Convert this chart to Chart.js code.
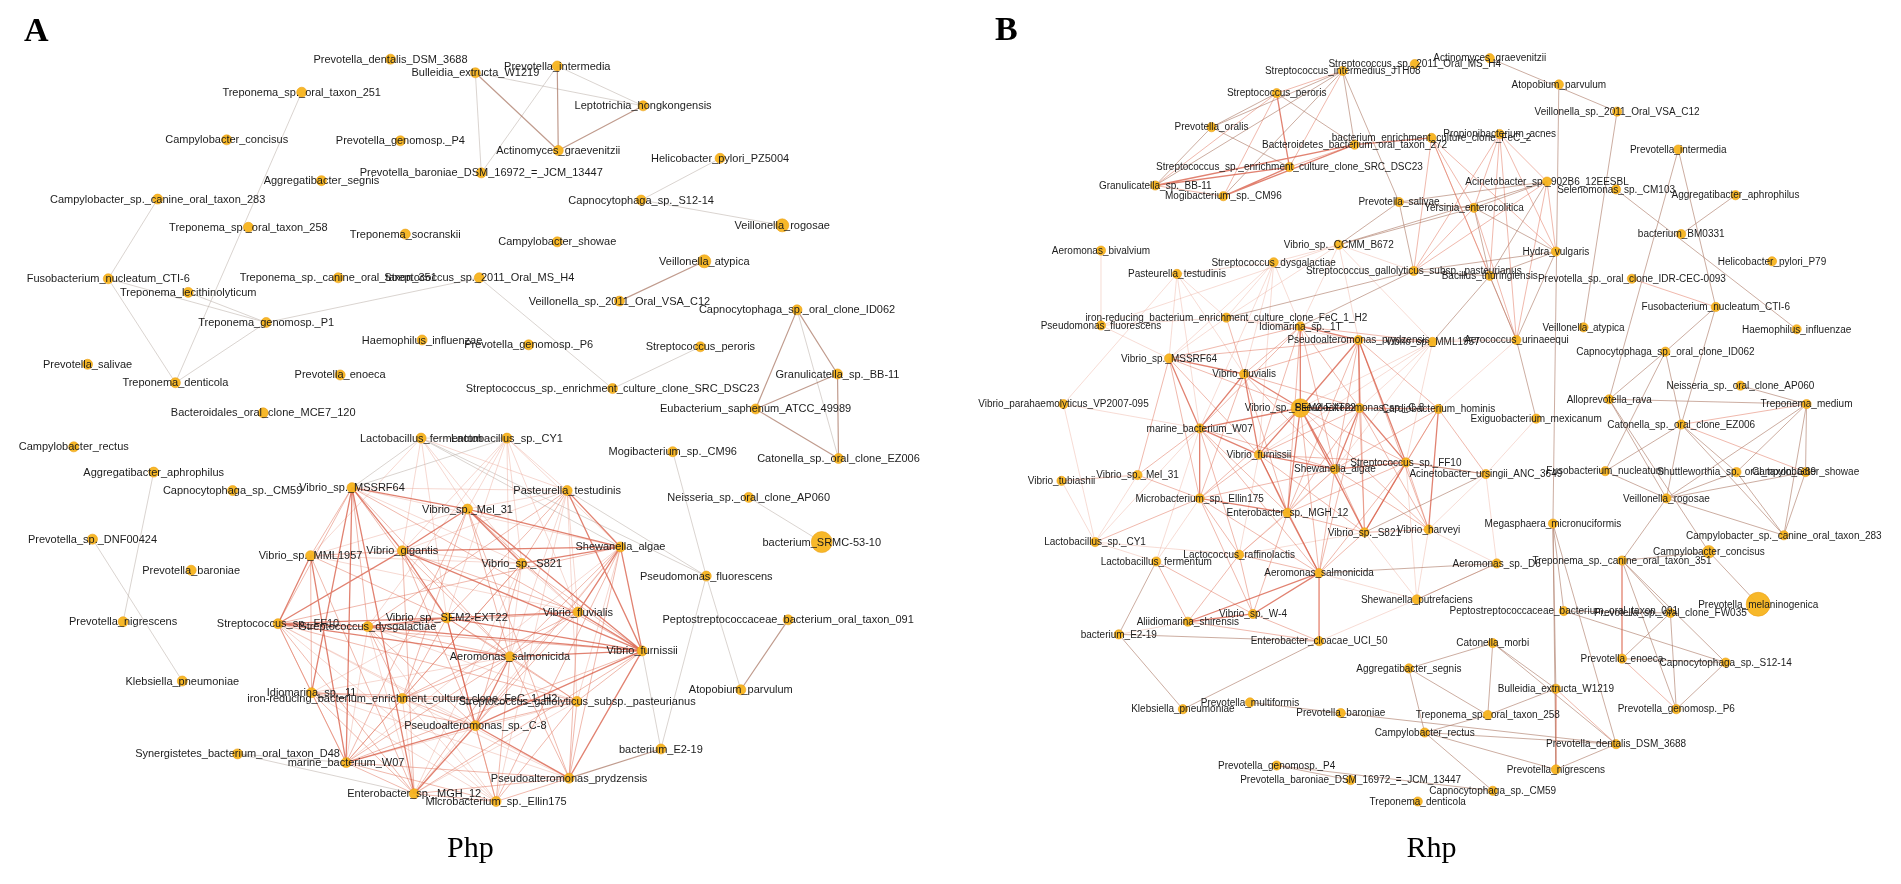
<!DOCTYPE html>
<html>
<head>
<meta charset="utf-8">
<script src="https://cdn.jsdelivr.net/npm/chart.js@4.4.1/dist/chart.umd.min.js"></script>
<style>
html,body{margin:0;padding:0;background:#ffffff;}
#wrap{width:1901px;height:884px;position:relative;}
</style>
</head>
<body>
<div id="wrap"><canvas id="c"></canvas></div>
<script>
// ---------- Panel A (Php) nodes: [id, taxon, layoutX, layoutY, abundance] ----------
const aNodes = [
["T251","Treponema_sp._oral_taxon_251",293,82,1],
["PDEN","Prevotella_dentalis_DSM_3688",383,48,1],
["BUL","Bulleidia_extructa_W1219",469,62,1],
["PINT","Prevotella_intermedia",552,55,1],
["LEP","Leptotrichia_hongkongensis",639,96,1],
["CCON","Campylobacter_concisus",217,131,1],
["P4","Prevotella_genomosp._P4",393,132,1],
["ACT","Actinomyces_graevenitzii",553,142,1],
["HEL","Helicobacter_pylori_PZ5004",717,150,1],
["PBD","Prevotella_baroniae_DSM_16972_=_JCM_13447",475,165,1],
["ASEG","Aggregatibacter_segnis",313,173,1],
["C283","Campylobacter_sp._canine_oral_taxon_283",147,192,1],
["CS12","Capnocytophaga_sp._S12-14",637,193,1],
["VRO","Veillonella_rogosae",780,219,1.3],
["T258","Treponema_sp._oral_taxon_258",239,221,1],
["TSOC","Treponema_socranskii",398,228,1],
["CSHO","Campylobacter_showae",552,236,1],
["VATY","Veillonella_atypica",701,256,1.3],
["T351","Treponema_sp._canine_oral_taxon_351",330,273,1],
["S2011","Streptococcus_sp._2011_Oral_MS_H4",473,273,1],
["FUSO","Fusobacterium_nucleatum_CTI-6",97,274,1],
["TLEC","Treponema_lecithinolyticum",178,288,1],
["VSA","Veillonella_sp._2011_Oral_VSA_C12",615,297,1],
["CID","Capnocytophaga_sp._oral_clone_ID062",795,306,1],
["P1","Treponema_genomosp._P1",257,319,1],
["HAE","Haemophilus_influenzae",415,337,1],
["P6","Prevotella_genomosp._P6",523,342,1],
["PER","Streptococcus_peroris",697,344,1],
["PSAL","Prevotella_salivae",76,362,1],
["GRA","Granulicatella_sp._BB-11",836,372,1],
["PENO","Prevotella_enoeca",332,373,1],
["TDEN","Treponema_denticola",165,381,1],
["SRC","Streptococcus_sp._enrichment_culture_clone_SRC_DSC23",608,387,1],
["EUB","Eubacterium_saphenum_ATCC_49989",753,408,1],
["BACT","Bacteroidales_oral_clone_MCE7_120",254,412,1],
["LF","Lactobacillus_fermentum",414,438,1],
["LCY","Lactobacillus_sp._CY1",501,438,1],
["CREC","Campylobacter_rectus",62,447,1],
["MOG","Mogibacterium_sp._CM96",669,452,1],
["CAT","Catonella_sp._oral_clone_EZ006",837,459,1],
["AAPH","Aggregatibacter_aphrophilus",143,473,1],
["MSS","Vibrio_sp._MSSRF64",344,489,1],
["CM59","Capnocytophaga_sp._CM59",223,492,1],
["PAS","Pasteurella_testudinis",562,492,1],
["NEI","Neisseria_sp._oral_clone_AP060",746,499,1],
["MEL","Vibrio_sp._Mel_31",461,511,1],
["DNF","Prevotella_sp._DNF00424",81,542,1],
["SRMC","bacterium_SRMC-53-10",820,545,2.1],
["SHE","Shewanella_algae",616,550,1],
["GIG","Vibrio_gigantis",395,554,1],
["MML","Vibrio_sp._MML1957",302,559,1],
["S821","Vibrio_sp._S821",516,567,1],
["PBAR","Prevotella_baroniae",181,574,1],
["PFL","Pseudomonas_fluorescens",703,580,1],
["FLU","Vibrio_fluvialis",573,617,1],
["SEM","Vibrio_sp._SEM2-EXT22",440,623,1],
["PEP","Peptostreptococcaceae_bacterium_oral_taxon_091",786,625,1],
["PNI","Prevotella_nigrescens",112,627,1],
["FF10","Streptococcus_sp._FF10",269,629,1],
["DYS","Streptococcus_dysgalactiae",360,632,1],
["FUR","Vibrio_furnissii",638,657,1],
["AER","Aeromonas_salmonicida",504,663,1],
["KLE","Klebsiella_pneumoniae",172,688,1],
["ATO","Atopobium_parvulum",738,697,1],
["IDI","Idiomarina_sp._11",303,700,1],
["IRON","iron-reducing_bacterium_enrichment_culture_clone_FeC_1_H2",395,706,1],
["GAL","Streptococcus_gallolyticus_subsp._pasteurianus",572,709,1],
["C8","Pseudoalteromonas_sp._C-8",469,734,1],
["E219","bacterium_E2-19",657,758,1],
["SYN","Synergistetes_bacterium_oral_taxon_D48",228,763,1],
["W07","marine_bacterium_W07",338,772,1],
["PRY","Pseudoalteromonas_prydzensis",564,788,1],
["ENT","Enterobacter_sp._MGH_12",407,804,1],
["MIC","Microbacterium_sp._Ellin175",490,812,1]
];

// ---------- Panel B (Rhp) nodes ----------
const bNodes = [
["SIN","Streptococcus_intermedius_JTH08",1348,60,1],
["S2011","Streptococcus_sp._2011_Oral_MS_H4",1421,53,1],
["ACT","Actinomyces_graevenitzii",1497,47,1],
["ATO","Atopobium_parvulum",1567,74,1],
["PER","Streptococcus_peroris",1281,83,1],
["VSA","Veillonella_sp._2011_Oral_VSA_C12",1626,102,1],
["POR","Prevotella_oralis",1215,118,1],
["PRO","Propionibacterium_acnes",1507,125,1],
["BENR","bacterium_enrichment_culture_clone_FeC_2",1438,129,1],
["BAC272","Bacteroidetes_bacterium_oral_taxon_272",1360,136,1],
["PINT","Prevotella_intermedia",1688,141,1],
["SRC","Streptococcus_sp._enrichment_culture_clone_SRC_DSC23",1294,159,1],
["A902","Acinetobacter_sp._902B6_12EESBL",1555,174,1],
["GRA","Granulicatella_sp._BB-11",1158,178,1],
["SEL","Selenomonas_sp._CM103",1625,182,1],
["AAPH","Aggregatibacter_aphrophilus",1746,188,1],
["MOG","Mogibacterium_sp._CM96",1227,189,1],
["PSAL","Prevotella_salivae",1405,195,1],
["YER","Yersinia_enterocolitica",1481,201,1],
["BM","bacterium_BM0331",1691,228,1],
["VCC","Vibrio_sp._CCMM_B672",1344,239,1],
["ABIV","Aeromonas_bivalvium",1103,245,1],
["HYD","Hydra_vulgaris",1564,246,1],
["HEL","Helicobacter_pylori_P79",1783,256,1],
["DYS","Streptococcus_dysgalactiae",1278,257,1],
["GAL","Streptococcus_gallolyticus_subsp._pasteurianus",1420,266,1],
["PAS","Pasteurella_testudinis",1180,269,1],
["BTH","Bacillus_thuringiensis",1497,271,1],
["IDR","Prevotella_sp._oral_clone_IDR-CEC-0093",1641,274,1],
["FCTI","Fusobacterium_nucleatum_CTI-6",1726,303,1],
["IRON","iron-reducing_bacterium_enrichment_culture_clone_FeC_1_H2",1230,314,1],
["PFL","Pseudomonas_fluorescens",1103,322,1],
["IDI","Idiomarina_sp._1T",1305,323,1],
["VATY","Veillonella_atypica",1592,324,1],
["HAE","Haemophilus_influenzae",1808,326,1],
["PRY","Pseudoalteromonas_prydzensis",1364,337,1],
["AERO","Aerococcus_urinaeequi",1524,337,1],
["MML","Vibrio_sp._MML1957",1439,339,1],
["CID","Capnocytophaga_sp._oral_clone_ID062",1675,349,1],
["MSS","Vibrio_sp._MSSRF64",1172,356,1],
["FLU","Vibrio_fluvialis",1248,372,1],
["NEI","Neisseria_sp._oral_clone_AP060",1751,384,1],
["ALLO","Alloprevotella_rava",1618,398,1],
["TMED","Treponema_medium",1818,403,1],
["VPH","Vibrio_parahaemolyticus_VP2007-095",1065,403,1],
["SEM","Vibrio_sp._SEM2-EXT22",1305,407,2],
["C8","Pseudoalteromonas_sp._C-8",1365,407,1],
["COR","Cardiobacterium_hominis",1445,408,1],
["EXI","Exiguobacterium_mexicanum",1544,418,1],
["CAT","Catonella_sp._oral_clone_EZ006",1691,424,1],
["W07","marine_bacterium_W07",1203,428,1],
["FUR","Vibrio_furnissii",1263,455,1],
["FF10","Streptococcus_sp._FF10",1412,463,1],
["SHE","Shewanella_algae",1340,470,1],
["FNU","Fusobacterium_nucleatum",1614,472,1],
["SHU","Shuttleworthia_sp._oral_taxon_G69",1747,473,1],
["CSH","Campylobacter_showae",1817,473,1],
["MEL","Vibrio_sp._Mel_31",1140,476,1],
["ACU","Acinetobacter_ursingii_ANC_3649",1493,475,1],
["TUB","Vibrio_tubiashii",1063,482,1],
["VRO","Veillonella_rogosae",1676,500,1],
["MIC","Microbacterium_sp._Ellin175",1203,500,1],
["ENT","Enterobacter_sp._MGH_12",1292,515,1],
["MEG","Megasphaera_micronuciformis",1561,526,1],
["HAR","Vibrio_harveyi",1435,532,1],
["S821","Vibrio_sp._S821",1370,535,1],
["C283","Campylobacter_sp._canine_oral_taxon_283",1795,538,1],
["LCY","Lactobacillus_sp._CY1",1097,545,1],
["CCON","Campylobacter_concisus",1719,555,1.35],
["LRA","Lactococcus_raffinolactis",1243,558,1],
["T351","Treponema_sp._canine_oral_taxon_351",1631,564,1],
["LFE","Lactobacillus_fermentum",1159,565,1],
["AD6","Aeromonas_sp._D6",1504,567,1],
["ASA","Aeromonas_salmonicida",1324,577,1],
["SPU","Shewanella_putrefaciens",1423,604,1],
["PMEL","Prevotella_melaninogenica",1769,609,2.6],
["PEP","Peptostreptococcaceae_bacterium_oral_taxon_091",1572,616,1],
["FW","Prevotella_sp._oral_clone_FW035",1680,618,1],
["W4","Vibrio_sp._W-4",1257,619,1],
["ALI","Aliidiomarina_shirensis",1191,627,1],
["E219","bacterium_E2-19",1121,640,1],
["ECL","Enterobacter_cloacae_UCI_50",1324,647,1],
["CMO","Catonella_morbi",1500,649,1],
["PEN","Prevotella_enoeca",1631,665,1],
["CS12","Capnocytophaga_sp._S12-14",1736,669,1],
["ASE","Aggregatibacter_segnis",1415,675,1],
["BUL","Bulleidia_extructa_W1219",1564,696,1],
["PMU","Prevotella_multiformis",1254,710,1],
["KLE","Klebsiella_pneumoniae",1186,717,1],
["P6","Prevotella_genomosp._P6",1686,717,1],
["PBA","Prevotella_baroniae",1346,721,1],
["T258","Treponema_sp._oral_taxon_258",1495,723,1],
["CRE","Campylobacter_rectus",1431,741,1],
["PDE","Prevotella_dentalis_DSM_3688",1625,753,1],
["P4","Prevotella_genomosp._P4",1281,775,1],
["PNI","Prevotella_nigrescens",1564,779,1],
["PBD","Prevotella_baroniae_DSM_16972_=_JCM_13447",1356,790,1],
["CM59","Capnocytophaga_sp._CM59",1500,801,1],
["TDE","Treponema_denticola",1424,812,1]
];

// ---------- Edges (co-occurrence links), grouped by correlation strength ----------
const aEdgesStrong = "FF10-DYS FF10-SEM DYS-SEM SEM-FLU SEM-FUR FLU-FUR MSS-GIG MSS-MEL GIG-MEL MEL-SHE GIG-SHE SHE-FUR FUR-C8 C8-W07 C8-ENT W07-MML MSS-ENT MSS-IDI MML-FF10 FF10-AER AER-FUR DYS-FUR GIG-SEM MEL-S821 S821-SHE SHE-FLU AER-C8 SEM-C8 FUR-PRY C8-PRY MSS-W07 GIG-FF10 GIG-FUR MEL-FUR PAS-FUR PAS-SHE".split(" ");
const aEdgesMedium = "MSS-MML MSS-FF10 MSS-DYS MSS-SEM MSS-AER MSS-FUR MML-GIG MML-IDI MML-ENT MML-SEM GIG-FLU GIG-AER GIG-C8 GIG-ENT MEL-FLU MEL-AER MEL-W07 MEL-IRON MEL-PRY PAS-S821 PAS-SEM PAS-DYS S821-FUR S821-IRON S821-W07 S821-C8 SHE-AER SHE-FF10 SHE-MIC SHE-PRY SHE-C8 FF10-FUR FF10-IDI FF10-W07 FF10-ENT FF10-GAL DYS-FLU DYS-AER DYS-C8 DYS-IRON SEM-AER SEM-IRON SEM-GAL SEM-MIC FLU-AER FLU-IRON FLU-C8 FLU-PRY FUR-GAL FUR-ENT FUR-W07 AER-IRON AER-GAL AER-W07 AER-ENT AER-MIC AER-PRY IDI-IRON IDI-C8 IDI-W07 IDI-ENT IDI-GAL IRON-GAL IRON-C8 IRON-W07 GAL-C8 GAL-PRY GAL-MIC C8-MIC W07-ENT W07-MIC W07-PRY ENT-MIC ENT-PRY MIC-PRY".split(" ");
const aEdgesLight = "MSS-PAS MSS-S821 MSS-SHE MML-MEL MML-S821 MML-FLU GIG-PAS GIG-S821 MEL-PAS PAS-FLU PAS-AER PAS-GAL PAS-MIC S821-FLU S821-AER S821-ENT SHE-GAL SHE-W07 SHE-ENT FF10-C8 FF10-MIC FF10-PRY DYS-GAL DYS-W07 DYS-ENT DYS-MIC IDI-SEM IDI-AER IDI-MIC IDI-PRY IRON-PRY IRON-ENT IRON-MIC GAL-W07 GAL-ENT LCY-MEL LCY-PAS LCY-S821 LCY-GIG LCY-SHE LCY-FLU LCY-SEM LCY-AER LCY-DYS LF-GIG LF-MEL LF-PAS LF-S821 LF-MML LF-SEM".split(" ");
const aEdgesGrey = "T251-TDEN C283-FUSO FUSO-TDEN FUSO-P1 TLEC-P1 TDEN-P1 P1-S2011 S2011-SRC PER-SRC BUL-PBD PINT-PBD PINT-LEP BUL-LEP HEL-CS12 CS12-VRO CID-CAT MOG-PFL PAS-PFL LF-PFL PFL-E219 PFL-ATO E219-FUR DNF-KLE AAPH-PNI SYN-ENT SYN-W07 LF-MSS LF-LCY LF-SHE LCY-MSS NEI-SRMC".split(" ");
const aEdgesBrown = "BUL-ACT PINT-ACT LEP-ACT VATY-VSA CID-EUB CID-GRA GRA-EUB GRA-CAT EUB-CAT ATO-PEP E219-PRY".split(" ");

const bEdgesStrong = "MSS-FLU FLU-SEM FLU-W07 FLU-FUR IDI-SEM IDI-PRY PRY-SEM PRY-C8 SEM-C8 SEM-FUR SEM-W07 SEM-SHE SEM-ENT C8-SHE C8-FF10 W07-FUR W07-MIC FUR-SHE FUR-ENT SHE-FF10 ENT-ASA ASA-W4 W4-ALI ALI-ASA GIG-W07 MSS-W07 ENT-MIC FF10-S821 SEM-S821 COR-HAR PRY-FF10 BENR-BAC272 GRA-SRC GRA-BAC272 MOG-SRC MOG-BAC272 PER-SRC".split(" ");
const bEdgesMedium = "MSS-GIG MSS-MEL MSS-SEM MSS-FUR MSS-IDI MSS-PRY MSS-MIC FLU-IDI FLU-PRY FLU-GIG FLU-C8 FLU-MIC FLU-ENT FLU-SHE FLU-IRON IDI-C8 IDI-FUR IDI-SHE IDI-ENT IDI-W07 IDI-MML PRY-SHE PRY-S821 PRY-ENT PRY-MML PRY-COR PRY-HAR GIG-SEM GIG-FUR GIG-MEL GIG-MIC SEM-FF10 SEM-MIC SEM-ASA SEM-COR SEM-HAR C8-S821 C8-ENT C8-COR C8-FUR C8-HAR C8-ASA COR-FF10 COR-S821 COR-SHE COR-ACU W07-ENT W07-SHE W07-MEL W07-LRA W07-ASA FUR-MIC FUR-FF10 FUR-S821 FUR-ASA SHE-ENT SHE-S821 SHE-ASA SHE-HAR SHE-MIC FF10-HAR FF10-ENT FF10-ASA FF10-ACU ENT-S821 ENT-LRA ENT-W4 MIC-MEL MIC-LCY MIC-LRA MIC-ASA MIC-W4 S821-HAR S821-ASA ASA-LRA ASA-ECL W4-LRA W4-LFE W4-ECL ALI-LFE ALI-LRA ALI-ECL PRO-A902 PRO-YER PRO-HYD PRO-BTH PRO-GAL BENR-YER BENR-HYD BENR-BTH BENR-GAL A902-HYD A902-GAL AERO-PRO AERO-BENR AERO-YER AERO-A902 YER-GAL GRA-PER GRA-MOG MOG-PER PER-SIN SIN-SRC SRC-BAC272 BUL-PNI BUL-PDE PEN-P6 T351-PEN CAT-CSH TMED-CAT IDR-FCTI".split(" ");
const bEdgesLight = "PFL-IRON PFL-MSS PFL-GIG IRON-IDI IRON-MSS IRON-PRY IRON-DYS DYS-IDI DYS-FLU DYS-MSS DYS-W07 DYS-FUR DYS-PAS PAS-MSS PAS-GIG PAS-IRON PAS-FLU PAS-VPH PAS-W07 VPH-GIG VPH-W07 VPH-LCY TUB-LCY TUB-MEL LCY-LFE LCY-GIG LCY-W07 LCY-LRA LFE-W07 LFE-MIC LRA-FUR LRA-SHE LRA-S821 VCC-GAL VCC-IDI VCC-PRY VCC-PFL VCC-IRON VCC-DYS VCC-MML MML-C8 MML-SEM MML-FUR MML-SHE MML-FF10 AERO-MML AERO-PRY AERO-COR ACU-HAR ACU-AD6 ACU-EXI HAR-AD6 HAR-SPU AD6-SPU SPU-ASA SPU-ECL SPU-FF10 S821-SPU MEL-LCY MEL-TUB GIG-TUB ALI-E219 PFL-ABIV".split(" ");
const bEdgesBrown = "A902-YER A902-BTH A902-PSAL A902-VCC YER-HYD YER-BTH YER-VCC YER-PSAL HYD-GAL HYD-BTH HYD-AERO BTH-AERO GAL-BTH GAL-PSAL GAL-IRON GAL-IDI BTH-MML PSAL-VCC GRA-POR GRA-SIN MOG-SIN POR-PER POR-SRC POR-SIN PER-BAC272 SIN-BAC272 SIN-PSAL ACT-VSA ATO-MEG VSA-VATY PINT-ALLO PINT-FCTI SEL-HAE AAPH-BM FCTI-CID FCTI-CAT CID-ALLO CID-FNU CID-CAT ALLO-TMED ALLO-VRO ALLO-CCON TMED-VRO TMED-C283 TMED-CSH TMED-NEI TMED-SHU CAT-C283 CAT-VRO CAT-SHU CAT-FNU VRO-CSH VRO-SHU VRO-C283 VRO-T351 VRO-FNU C283-CSH C283-SHU CCON-PMEL CCON-T351 T351-CS12 T351-FW T351-P6 PEN-CS12 PEN-FW CS12-P6 CS12-PEP FW-P6 FW-PEP MEG-PNI MEG-BUL MEG-PDE MEG-PEP BUL-CMO BUL-T258 CMO-PDE CMO-T258 CMO-ASE PDE-PNI PDE-CRE PDE-PBA CRE-T258 CRE-PNI CRE-CM59 ASE-T258 ASE-CRE PMU-PBA P4-PBD P4-CM59 KLE-E219 KLE-ECL E219-ECL E219-LFE EXI-AERO AD6-ASA ACU-S821 ACU-FF10 SPU-AD6".split(" ");

// ---------- Panel captions ----------
const captions = [
  {text:"A", x:24, y:20, font:"bold 34px 'Liberation Serif', 'Times New Roman', serif"},
  {text:"B", x:1007, y:19, font:"bold 34px 'Liberation Serif', 'Times New Roman', serif"},
  {text:"Php", x:464, y:861, font:"30px 'Liberation Serif', 'Times New Roman', serif"},
  {text:"Rhp", x:1438, y:861, font:"30px 'Liberation Serif', 'Times New Roman', serif"}
];

// ---------- builders ----------
function edgePoints(nodes, list){
  const m = {};
  nodes.forEach(n => { m[n[0]] = n; });
  const out = [];
  list.forEach(e => {
    const [a,b] = e.split("-");
    const p = m[a], q = m[b];
    if(!p || !q) return;
    out.push({x:p[2], y:p[3]}, {x:q[2], y:q[3]}, {x:null, y:null});
  });
  return out;
}
function edgeSet(nodes, list, color, width, order){
  return {type:"scatter", data:edgePoints(nodes, list), showLine:true, spanGaps:false,
          borderColor:color, borderWidth:width, pointRadius:0, pointHoverRadius:0, pointHitRadius:0,
          order:order, clip:false};
}
function nodeSet(nodes, baseR, font){
  return {type:"scatter", data:nodes.map(n => ({x:n[2], y:n[3]})),
          pointRadius:nodes.map(n => baseR*n[4]), pointHoverRadius:nodes.map(n => baseR*n[4]),
          backgroundColor:"rgba(247,180,30,0.95)", borderColor:"rgba(236,160,20,1)", borderWidth:0.6,
          order:0, clip:false, nodeLabels:nodes.map(n => n[1]), labelFont:font};
}

const COL = {
  strong:"rgba(214,82,58,0.72)",
  medium:"rgba(226,116,92,0.50)",
  light:"rgba(236,168,152,0.45)",
  grey:"rgba(188,176,170,0.55)",
  brown:"rgba(165,112,92,0.70)",
  brownB:"rgba(170,118,98,0.60)"
};

const datasets = [
  nodeSet(aNodes, 5, "11px 'Liberation Sans', Arial, sans-serif"),
  nodeSet(bNodes, 4.6, "10px 'Liberation Sans', Arial, sans-serif"),
  edgeSet(aNodes, aEdgesStrong, COL.strong, 1.3, 1),
  edgeSet(bNodes, bEdgesStrong, COL.strong, 1.3, 1),
  edgeSet(aNodes, aEdgesBrown, COL.brown, 1.2, 2),
  edgeSet(bNodes, bEdgesBrown, COL.brownB, 1.0, 2),
  edgeSet(aNodes, aEdgesMedium, COL.medium, 1.0, 3),
  edgeSet(bNodes, bEdgesMedium, COL.medium, 1.0, 3),
  edgeSet(aNodes, aEdgesLight, COL.light, 1.0, 4),
  edgeSet(bNodes, bEdgesLight, COL.light, 0.9, 4),
  edgeSet(aNodes, aEdgesGrey, COL.grey, 1.0, 5)
];

const labelPlugin = {
  id:"nodeLabels",
  afterDatasetsDraw(chart){
    const ctx = chart.ctx;
    ctx.save();
    ctx.textAlign = "center";
    ctx.textBaseline = "middle";
    ctx.fillStyle = "#1c1c1c";
    chart.data.datasets.forEach((ds, di) => {
      if(!ds.nodeLabels) return;
      const meta = chart.getDatasetMeta(di);
      ctx.font = ds.labelFont;
      meta.data.forEach((pt, i) => { ctx.fillText(ds.nodeLabels[i], pt.x, pt.y + 0.5); });
    });
    const xs = chart.scales.x, ys = chart.scales.y;
    ctx.fillStyle = "#000";
    captions.forEach(c => {
      ctx.font = c.font;
      ctx.fillText(c.text, xs.getPixelForValue(c.x), ys.getPixelForValue(c.y));
    });
    ctx.restore();
  }
};

new Chart(document.getElementById("c"), {
  type:"scatter",
  data:{datasets:datasets},
  options:{
    responsive:true,
    maintainAspectRatio:false,
    animation:false,
    events:[],
    layout:{padding:0},
    plugins:{legend:{display:false}, tooltip:{enabled:false}},
    scales:{
      x:{type:"linear", min:0, max:1901, display:false},
      y:{type:"linear", min:0, max:884, reverse:true, display:false}
    }
  },
  plugins:[labelPlugin]
});
</script>
</body>
</html>
